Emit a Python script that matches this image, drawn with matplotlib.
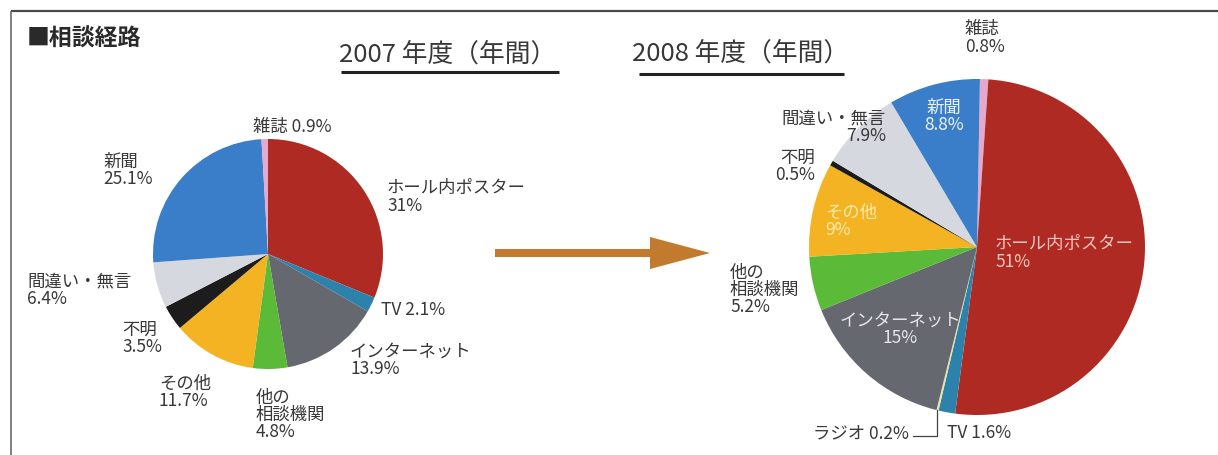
import numpy as np
import matplotlib
matplotlib.use('Agg')
import matplotlib.pyplot as plt
from matplotlib.patches import FancyArrow

plt.rcParams['font.family'] = ['Noto Sans CJK JP', 'DejaVu Sans']

# data
cats_2007 = ['ホール内ポスター', 'TV', 'インターネット', '他の相談機関', 'その他',
             '不明', '間違い・無言', '新聞', '雑誌']
vals_2007 = [31, 2.1, 13.9, 4.8, 11.7, 3.5, 6.4, 25.1, 0.9]

cats_2008 = ['雑誌', 'ホール内ポスター', 'TV', 'ラジオ', 'インターネット',
             '他の相談機関', 'その他', '不明', '間違い・無言', '新聞']
vals_2008 = [0.8, 51, 1.6, 0.2, 15, 5.2, 9, 0.5, 7.9, 8.8]

title = '■相談経路'
year_titles = ['2007 年度（年間）', '2008 年度（年間）']

# styles
colors = {
    'ホール内ポスター': '#AE2A23',
    'TV': '#2D82AC',
    'ラジオ': '#EDE3A0',
    'インターネット': '#66686F',
    '他の相談機関': '#5BBA37',
    'その他': '#F3B322',
    '不明': '#1C1C1C',
    '間違い・無言': '#D6D8E0',
    '新聞': '#3A7DC9',
    '雑誌': '#E4A9CC',
}
display_names = {'他の相談機関': '他の\n相談機関'}
DARK = '#383838'

# label layout per year: cat -> (x, y, ha, color, one_line)  [pixel coords]
layout_2007 = {
    '雑誌': (253, 127, 'left', DARK, True),
    'ホール内ポスター': (387, 197, 'left', DARK, False),
    'TV': (381, 310, 'left', DARK, True),
    'インターネット': (350, 360, 'left', DARK, False),
    '他の相談機関': (256, 415, 'left', DARK, False),
    'その他': (159, 392, 'left', DARK, False),
    '不明': (122, 338, 'left', DARK, False),
    '間違い・無言': (27, 290, 'left', DARK, False),
    '新聞': (103, 170, 'left', DARK, False),
}
layout_2008 = {
    '雑誌': (965, 38, 'left', DARK, False),
    '新聞': (944, 116, 'center', '#EEF3FA', False),
    '間違い・無言': (886, 127, 'right', DARK, False),
    '不明': (815, 166, 'right', DARK, False),
    'その他': (825, 221, 'left', '#FCEBB0', False),
    '他の相談機関': (730, 290, 'left', DARK, False),
    'インターネット': (900, 329, 'center', '#E6E6EA', False),
    'ホール内ポスター': (995, 253, 'left', '#F3C6BF', False),
    'TV': (947, 433, 'left', DARK, True),
    'ラジオ': (909, 433, 'right', DARK, True),
}

W, H = 1218, 456
fig = plt.figure(figsize=(W / 100, H / 100), dpi=100)
fig.patch.set_facecolor('white')


def pie_axes(cx, cy, r):
    ax = fig.add_axes([(cx - r) / W, 1 - (cy + r) / H, 2 * r / W, 2 * r / H])
    ax.axis('off')
    return ax


def fmt(v):
    return f'{v:g}%'


# pies
pies = [
    (cats_2007, vals_2007, layout_2007, (268, 255, 115), 90),
    (cats_2008, vals_2008, layout_2008, (977, 248, 168), 89),
]
wedge_sets = []
for cats, vals, lay, (cx, cy, r), start in pies:
    ax = pie_axes(cx, cy, r)
    wedges, _ = ax.pie(vals, colors=[colors[c] for c in cats], startangle=start,
                       counterclock=False, radius=1,
                       wedgeprops=dict(linewidth=0))
    ax.set_xlim(-1, 1)
    ax.set_ylim(-1, 1)
    ax.set_aspect('equal')
    wedge_sets.append(wedges)

# overlay in pixel coords
top = fig.add_axes([0, 0, 1, 1], zorder=5)
top.set_xlim(0, W)
top.set_ylim(H, 0)
top.axis('off')
top.patch.set_alpha(0)

# frame
top.plot([11, W], [12, 12], color='#4a4a4a', lw=1.6, solid_capstyle='butt')
top.plot([11, 11], [12, H], color='#6a6a6a', lw=1.2, solid_capstyle='butt')

top.text(27, 39, title, fontsize=16.5, fontweight='bold', color='#2a2a2a',
         ha='left', va='center')

# year headings with underline
for (tx, ty, x0, x1, uy), s in zip([(448, 55, 341, 559, 73), (741, 54, 639, 844, 75)],
                                    year_titles):
    top.text(tx, ty, s, fontsize=18.5, color=DARK, ha='center', va='center')
    top.plot([x0, x1], [uy, uy], color='#222222', lw=2.2, solid_capstyle='butt')

# arrow between pies
top.add_patch(FancyArrow(495, 254, 215, 0, width=8, head_width=32, head_length=60,
                         length_includes_head=True, color='#C27A2E', lw=0))

# labels
for (cats, vals, lay, (cx, cy, r), start) in pies:
    for c, v in zip(cats, vals):
        x, y, ha, col, one_line = lay[c]
        name = display_names.get(c, c)
        s = f'{name} {fmt(v)}' if one_line else f'{name}\n{fmt(v)}'
        top.text(x, y, s, fontsize=12.5, color=col, ha=ha, va='center',
                 linespacing=0.95, multialignment=ha)

# leader for ラジオ
cx, cy, r = 977, 248, 168
w = wedge_sets[1][cats_2008.index('ラジオ')]
th = np.radians((w.theta1 + w.theta2) / 2)
ex, ey = cx + r * np.cos(th), cy - r * np.sin(th)
lx0 = layout_2008['ラジオ'][0] + 4
ly = layout_2008['ラジオ'][1] + 4
top.plot([lx0, ex, ex], [ly, ly, ey], color='#444444', lw=0.9)

fig.savefig('out.png', dpi=100, facecolor='white')
